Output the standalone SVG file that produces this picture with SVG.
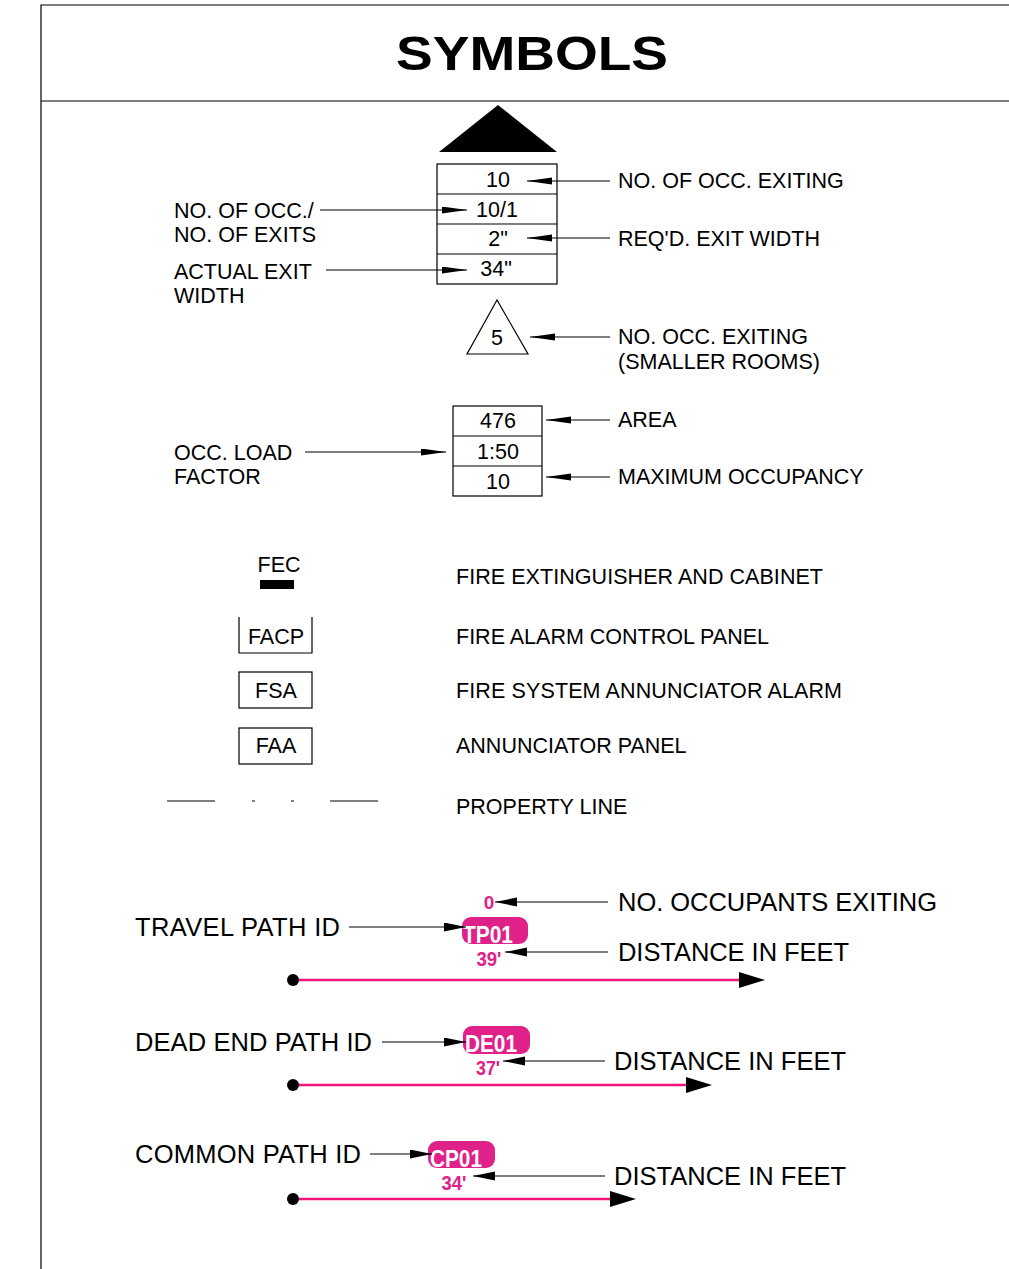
<svg xmlns="http://www.w3.org/2000/svg" width="1009" height="1269" viewBox="0 0 1009 1269">
<defs>
<style>
.t{font-family:"Liberation Sans",Arial,sans-serif;font-size:21.5px;fill:#000}
.tl{font-family:"Liberation Sans",Arial,sans-serif;font-size:25.5px;fill:#000}
.c{text-anchor:middle}
.box{fill:#fff;stroke:#000;stroke-width:1.2}
.ln{stroke:#000;stroke-width:1.2;fill:none}
.pk{font-family:"Liberation Sans",Arial,sans-serif;font-weight:bold;fill:#e0218a;text-anchor:middle}
.wt{font-family:"Liberation Sans",Arial,sans-serif;font-weight:bold;fill:#fff;text-anchor:middle;font-size:24px}
.pill{fill:#e0218a}
.path{stroke:#f0147c;stroke-width:2.5;fill:none}
</style>
<marker id="a1" markerUnits="userSpaceOnUse" markerWidth="26" markerHeight="8" refX="25" refY="3.5" orient="auto"><path d="M0,0 L25,3.5 L0,7 z" fill="#000"/></marker>
<marker id="a2" markerUnits="userSpaceOnUse" markerWidth="23" markerHeight="10" refX="22" refY="4.5" orient="auto"><path d="M0,0 L22,4.5 L0,9 z" fill="#000"/></marker>
</defs>
<rect width="1009" height="1269" fill="#fff"/>
<g id="frame">
<path class="ln" d="M41,1269 V5 H1009" stroke-width="1.5"/>
<line class="ln" x1="41" y1="101" x2="1009" y2="101" stroke-width="1.5"/>
<text x="532" y="70" font-family="'Liberation Sans',Arial,sans-serif" font-weight="bold" font-size="49" text-anchor="middle" textLength="272" lengthAdjust="spacingAndGlyphs">SYMBOLS</text>
</g>
<g id="exit-symbol">
<polygon points="439,152 557,152 498,105" fill="#000"/>
<rect class="box" x="437" y="164" width="120" height="120"/>
<line class="ln" x1="437" y1="194" x2="557" y2="194"/>
<line class="ln" x1="437" y1="224" x2="557" y2="224"/>
<line class="ln" x1="437" y1="254" x2="557" y2="254"/>
<text class="t c" x="498" y="187">10</text>
<text class="t c" x="497" y="217">10/1</text>
<text class="t c" x="498" y="246">2"</text>
<text class="t c" x="496" y="276">34"</text>
</g>
<g id="small-room-symbol">
<polygon points="497,300 467,354 528,354" fill="#fff" stroke="#000" stroke-width="1.2"/>
<text class="t c" x="497" y="345">5</text>
</g>
<g id="occ-load-symbol">
<rect class="box" x="453" y="406" width="89" height="90"/>
<line class="ln" x1="453" y1="436" x2="542" y2="436"/>
<line class="ln" x1="453" y1="466" x2="542" y2="466"/>
<text class="t c" x="498" y="428">476</text>
<text class="t c" x="498" y="459">1:50</text>
<text class="t c" x="498" y="489">10</text>
</g>
<g id="labels-top">
<text class="t" x="618" y="188">NO. OF OCC. EXITING</text>
<text class="t" x="174" y="218">NO. OF OCC./</text>
<text class="t" x="174" y="242">NO. OF EXITS</text>
<text class="t" x="618" y="246">REQ'D. EXIT WIDTH</text>
<text class="t" x="174" y="279">ACTUAL EXIT</text>
<text class="t" x="174" y="303">WIDTH</text>
<text class="t" x="618" y="344">NO. OCC. EXITING</text>
<text class="t" x="618" y="369">(SMALLER ROOMS)</text>
<text class="t" x="618" y="427">AREA</text>
<text class="t" x="174" y="460">OCC. LOAD</text>
<text class="t" x="174" y="484">FACTOR</text>
<text class="t" x="618" y="484">MAXIMUM OCCUPANCY</text>
</g>
<g id="fec">
<text class="t c" x="279" y="572">FEC</text>
<rect x="260" y="580" width="34" height="9" fill="#000"/>
<text class="t" x="456" y="584" textLength="367" lengthAdjust="spacing">FIRE EXTINGUISHER AND CABINET</text>
</g>
<g id="facp">
<path class="ln" d="M239,617 V653 H312 V617"/>
<text class="t c" x="276" y="644">FACP</text>
<text class="t" x="456" y="644">FIRE ALARM CONTROL PANEL</text>
</g>
<g id="fsa">
<rect class="box" x="239" y="672" width="73" height="36"/>
<text class="t c" x="276" y="698">FSA</text>
<text class="t" x="456" y="698" textLength="386" lengthAdjust="spacing">FIRE SYSTEM ANNUNCIATOR ALARM</text>
</g>
<g id="faa">
<rect class="box" x="239" y="728" width="73" height="36"/>
<text class="t c" x="276" y="753">FAA</text>
<text class="t" x="456" y="753">ANNUNCIATOR PANEL</text>
</g>
<g id="property-line">
<path class="ln" d="M167,801 H215 M252,801 H255 M291,801 H294 M330,801 H378" stroke-width="1.5"/>
<text class="t" x="456" y="814">PROPERTY LINE</text>
</g>
<g id="travel-path">
<text class="tl" x="135" y="936" textLength="205" lengthAdjust="spacing">TRAVEL PATH ID</text>
<text class="tl" x="618" y="911" textLength="319" lengthAdjust="spacing">NO. OCCUPANTS EXITING</text>
<text class="tl" x="618" y="961" textLength="231" lengthAdjust="spacing">DISTANCE IN FEET</text>
<text class="pk" x="489" y="909" font-size="19">0</text>
<rect class="pill" x="462" y="917" width="66" height="27" rx="9"/>
<text class="wt" x="488" y="943" textLength="50" lengthAdjust="spacingAndGlyphs">TP01</text>
<text class="pk" x="489" y="966" font-size="21" textLength="25" lengthAdjust="spacingAndGlyphs">39'</text>
<line class="path" x1="293" y1="980" x2="744" y2="980"/>
<circle cx="293" cy="980" r="6" fill="#000"/>
</g>
<g id="dead-end-path">
<text class="tl" x="135" y="1051" textLength="237" lengthAdjust="spacing">DEAD END PATH ID</text>
<text class="tl" x="614" y="1070" textLength="232" lengthAdjust="spacing">DISTANCE IN FEET</text>
<rect class="pill" x="463" y="1026" width="67" height="28" rx="9"/>
<text class="wt" x="491" y="1052" textLength="52" lengthAdjust="spacingAndGlyphs">DE01</text>
<text class="pk" x="488" y="1075" font-size="21" textLength="24" lengthAdjust="spacingAndGlyphs">37'</text>
<line class="path" x1="293" y1="1085" x2="690" y2="1085"/>
<circle cx="293" cy="1085" r="6" fill="#000"/>
</g>
<g id="common-path">
<text class="tl" x="135" y="1163" textLength="226" lengthAdjust="spacing">COMMON PATH ID</text>
<text class="tl" x="614" y="1185" textLength="232" lengthAdjust="spacing">DISTANCE IN FEET</text>
<rect class="pill" x="428" y="1141" width="67" height="27" rx="9"/>
<text class="wt" x="456" y="1167" textLength="52" lengthAdjust="spacingAndGlyphs">CP01</text>
<text class="pk" x="454" y="1190" font-size="21" textLength="25" lengthAdjust="spacingAndGlyphs">34'</text>
<line class="path" x1="293" y1="1199" x2="614" y2="1199"/>
<circle cx="293" cy="1199" r="6" fill="#000"/>
</g>
<g id="connectors">
<line class="ln" x1="610" y1="181" x2="527" y2="181" marker-end="url(#a1)"/>
<line class="ln" x1="320" y1="210" x2="467" y2="210" marker-end="url(#a1)"/>
<line class="ln" x1="610" y1="238" x2="527" y2="238" marker-end="url(#a1)"/>
<line class="ln" x1="326" y1="270" x2="467" y2="270" marker-end="url(#a1)"/>
<line class="ln" x1="610" y1="337" x2="530" y2="337" marker-end="url(#a1)"/>
<line class="ln" x1="305" y1="452" x2="446" y2="452" marker-end="url(#a1)"/>
<line class="ln" x1="610" y1="420" x2="546" y2="420" marker-end="url(#a1)"/>
<line class="ln" x1="610" y1="477" x2="546" y2="477" marker-end="url(#a1)"/>
<line class="ln" x1="349" y1="927" x2="466" y2="927" marker-end="url(#a2)"/>
<line class="ln" x1="608" y1="902" x2="495" y2="902" marker-end="url(#a2)"/>
<line class="ln" x1="608" y1="952" x2="505" y2="952" marker-end="url(#a2)"/>
<line class="ln" x1="382" y1="1042" x2="466" y2="1042" marker-end="url(#a2)"/>
<line class="ln" x1="605" y1="1061" x2="503" y2="1061" marker-end="url(#a2)"/>
<line class="ln" x1="370" y1="1154" x2="432" y2="1154" marker-end="url(#a2)"/>
<line class="ln" x1="605" y1="1176" x2="473" y2="1176" marker-end="url(#a2)"/>
<polygon points="739,972 765,980 739,988" fill="#000"/>
<polygon points="686,1077 712,1085 686,1093" fill="#000"/>
<polygon points="610,1191 636,1199 610,1207" fill="#000"/>
</g>
</svg>
